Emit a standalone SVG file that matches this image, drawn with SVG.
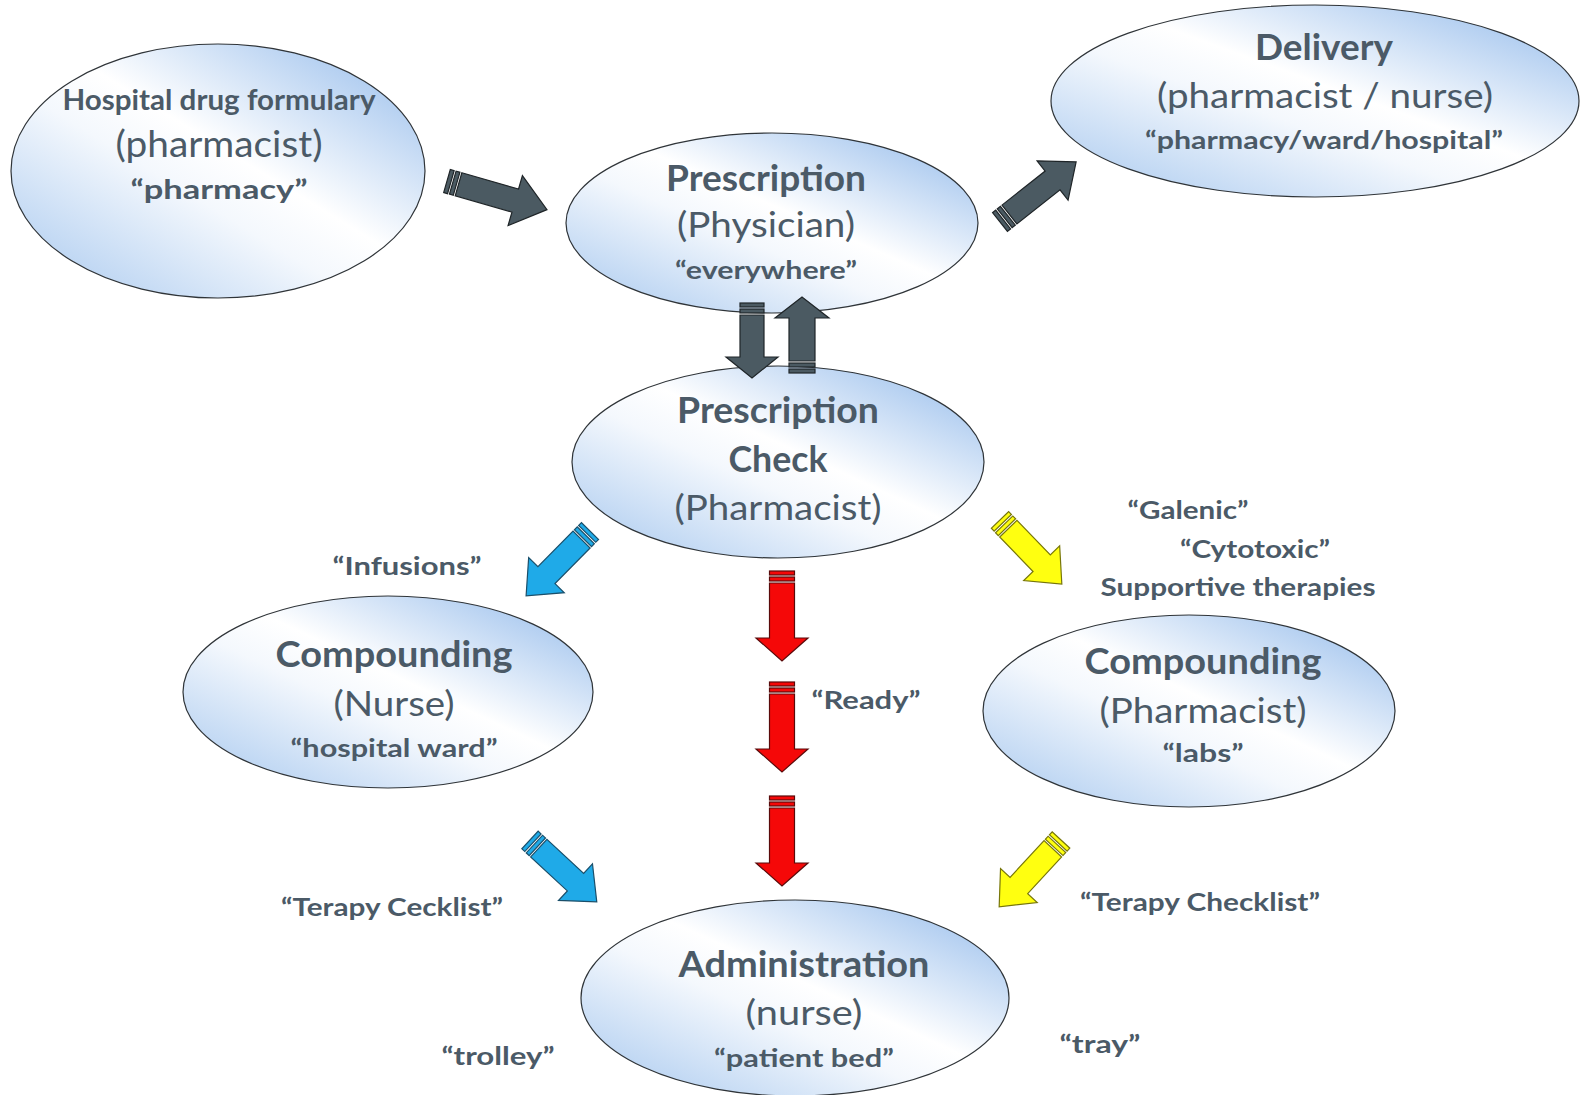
<svg xmlns="http://www.w3.org/2000/svg" width="1585" height="1095" viewBox="0 0 1585 1095">
  <defs>
    <linearGradient id="bubble" x1="1" y1="0" x2="0" y2="1">
      <stop offset="0" stop-color="#8fb8ea"/>
      <stop offset="0.45" stop-color="#ffffff"/>
      <stop offset="0.58" stop-color="#f4f8fd"/>
      <stop offset="1" stop-color="#a4c6ee"/>
    </linearGradient>
    <style>
      .node ellipse { fill: url(#bubble); stroke: #2f3438; stroke-width: 1.2; }
      text { font-family: Lato, "Liberation Sans", sans-serif; fill: #4b5a67; text-anchor: middle; }
      .b { font-weight: bold; font-size: 25px; }
      .t { font-weight: bold; font-size: 36px; }
      .r { font-weight: normal; font-size: 35px; }
      .gray path, .gray rect { fill: #4b5a62; stroke: #1f2528; stroke-width: 1.2; }
      .blue path, .blue rect { fill: #1faae8; stroke: #1a4f6a; stroke-width: 1.2; }
      .yellow path, .yellow rect { fill: #ffff10; stroke: #77760a; stroke-width: 1.2; }
      .red path, .red rect { fill: #f50808; stroke: #5a0a0a; stroke-width: 1.2; }
    </style>
  </defs>

  <!-- nodes -->
  <g id="formulary" class="node">
    <ellipse cx="218" cy="171" rx="207" ry="127"/>
    <text class="b" x="219" y="110" style="font-size:28px" textLength="313" lengthAdjust="spacingAndGlyphs">Hospital drug formulary</text>
    <text class="r" x="219" y="157" style="font-size:37px" textLength="207" lengthAdjust="spacingAndGlyphs">(pharmacist)</text>
    <text class="b" x="219" y="199" style="font-size:27px" textLength="177" lengthAdjust="spacingAndGlyphs">“pharmacy”</text>
  </g>

  <g id="prescription" class="node">
    <ellipse cx="772" cy="223" rx="206" ry="90"/>
    <text class="t" x="766" y="191" textLength="200" lengthAdjust="spacingAndGlyphs">Prescription</text>
    <text class="r" x="766" y="237" textLength="178" lengthAdjust="spacingAndGlyphs">(Physician)</text>
    <text class="b" x="766" y="279" textLength="182" lengthAdjust="spacingAndGlyphs">“everywhere”</text>
  </g>

  <g id="delivery" class="node">
    <ellipse cx="1315" cy="101" rx="264" ry="96"/>
    <text class="t" x="1324" y="60" textLength="138" lengthAdjust="spacingAndGlyphs">Delivery</text>
    <text class="r" x="1325" y="108" textLength="336" lengthAdjust="spacingAndGlyphs">(pharmacist / nurse)</text>
    <text class="b" x="1324" y="149" textLength="358" lengthAdjust="spacingAndGlyphs">“pharmacy/ward/hospital”</text>
  </g>

  <g id="check" class="node">
    <ellipse cx="778" cy="462" rx="206" ry="96"/>
    <text class="t" x="778" y="423" textLength="202" lengthAdjust="spacingAndGlyphs">Prescription</text>
    <text class="t" x="778" y="472" textLength="99" lengthAdjust="spacingAndGlyphs">Check</text>
    <text class="r" x="778" y="520" textLength="207" lengthAdjust="spacingAndGlyphs">(Pharmacist)</text>
  </g>

  <g id="compounding-nurse" class="node">
    <ellipse cx="388" cy="692" rx="205" ry="96"/>
    <text class="t" x="394" y="667" textLength="237" lengthAdjust="spacingAndGlyphs">Compounding</text>
    <text class="r" x="394" y="716" textLength="121" lengthAdjust="spacingAndGlyphs">(Nurse)</text>
    <text class="b" x="394" y="757" textLength="207" lengthAdjust="spacingAndGlyphs">“hospital ward”</text>
  </g>

  <g id="compounding-pharmacist" class="node">
    <ellipse cx="1189" cy="711" rx="206" ry="96"/>
    <text class="t" x="1203" y="674" textLength="237" lengthAdjust="spacingAndGlyphs">Compounding</text>
    <text class="r" x="1203" y="723" textLength="207" lengthAdjust="spacingAndGlyphs">(Pharmacist)</text>
    <text class="b" x="1203" y="762" textLength="81" lengthAdjust="spacingAndGlyphs">“labs”</text>
  </g>

  <g id="administration" class="node">
    <ellipse cx="795" cy="998" rx="214" ry="98"/>
    <text class="t" x="804" y="977" textLength="251" lengthAdjust="spacingAndGlyphs">Administration</text>
    <text class="r" x="804" y="1025" textLength="117" lengthAdjust="spacingAndGlyphs">(nurse)</text>
    <text class="b" x="804" y="1067" textLength="180" lengthAdjust="spacingAndGlyphs">“patient bed”</text>
  </g>

  <!-- connectors: striped block arrows, drawn pointing +x then placed -->
  <g id="connectors">
    <g class="gray" transform="translate(447 181) rotate(16)">
      <rect x="0" y="-12" width="4" height="24"/><rect x="6" y="-12" width="4" height="24"/>
      <path d="M12,-12 H71 V-26 L104,0 L71,26 V12 H12 Z"/>
    </g>
    <g class="gray" transform="translate(1000 222) rotate(-38.3)">
      <rect x="0" y="-12" width="4" height="24"/><rect x="6" y="-12" width="4" height="24"/>
      <path d="M12,-12 H67 V-25 L97,0 L67,25 V12 H12 Z"/>
    </g>
    <g class="gray" transform="translate(752 303) rotate(90)">
      <rect x="0" y="-12" width="4" height="24"/><rect x="6" y="-12" width="4" height="24"/>
      <path d="M12,-12 H54 V-26 L75,0 L54,26 V12 H12 Z"/>
    </g>
    <g class="gray" transform="translate(802 373) rotate(-90)">
      <rect x="0" y="-13" width="4" height="26"/><rect x="6" y="-13" width="4" height="26"/>
      <path d="M12,-13 H55 V-27 L76,0 L55,27 V13 H12 Z"/>
    </g>

    <g class="blue" transform="translate(590 531) rotate(134.6)">
      <rect x="0" y="-12" width="4" height="24"/><rect x="6" y="-12" width="4" height="24"/>
      <path d="M12,-12 H62 V-25 L91,0 L62,25 V12 H12 Z"/>
    </g>
    <g class="yellow" transform="translate(1000 520) rotate(46)">
      <rect x="0" y="-12" width="4" height="24"/><rect x="6" y="-12" width="4" height="24"/>
      <path d="M12,-12 H60 V-25 L89,0 L60,25 V12 H12 Z"/>
    </g>
    <g class="blue" transform="translate(530 840) rotate(42.8)">
      <rect x="0" y="-12" width="4" height="24"/><rect x="6" y="-12" width="4" height="24"/>
      <path d="M12,-12 H62 V-25 L91,0 L62,25 V12 H12 Z"/>
    </g>
    <g class="yellow" transform="translate(1061 840) rotate(132.8)">
      <rect x="0" y="-12" width="4" height="24"/><rect x="6" y="-12" width="4" height="24"/>
      <path d="M12,-12 H62 V-25 L91,0 L62,25 V12 H12 Z"/>
    </g>

    <g class="red" transform="translate(782 571) rotate(90)">
      <rect x="0" y="-12.5" width="4" height="25"/><rect x="6" y="-12.5" width="4" height="25"/>
      <path d="M12,-12.5 H67 V-26 L90,0 L67,26 V12.5 H12 Z"/>
    </g>
    <g class="red" transform="translate(782 682) rotate(90)">
      <rect x="0" y="-12.5" width="4" height="25"/><rect x="6" y="-12.5" width="4" height="25"/>
      <path d="M12,-12.5 H67 V-26 L90,0 L67,26 V12.5 H12 Z"/>
    </g>
    <g class="red" transform="translate(782 796) rotate(90)">
      <rect x="0" y="-12.5" width="4" height="25"/><rect x="6" y="-12.5" width="4" height="25"/>
      <path d="M12,-12.5 H67 V-26 L90,0 L67,26 V12.5 H12 Z"/>
    </g>
  </g>

  <!-- free labels -->
  <g id="labels">
    <text class="b" x="407" y="575" textLength="149" lengthAdjust="spacingAndGlyphs">“Infusions”</text>
    <text class="b" x="1188" y="519" textLength="121" lengthAdjust="spacingAndGlyphs">“Galenic”</text>
    <text class="b" x="1255" y="558" textLength="150" lengthAdjust="spacingAndGlyphs">“Cytotoxic”</text>
    <text class="b" x="1238" y="596" textLength="275" lengthAdjust="spacingAndGlyphs">Supportive therapies</text>
    <text class="b" x="866" y="709" textLength="109" lengthAdjust="spacingAndGlyphs">“Ready”</text>
    <text class="b" x="392" y="916" textLength="222" lengthAdjust="spacingAndGlyphs">“Terapy Cecklist”</text>
    <text class="b" x="1200" y="911" textLength="240" lengthAdjust="spacingAndGlyphs">“Terapy Checklist”</text>
    <text class="b" x="498" y="1065" textLength="113" lengthAdjust="spacingAndGlyphs">“trolley”</text>
    <text class="b" x="1100" y="1053" textLength="81" lengthAdjust="spacingAndGlyphs">“tray”</text>
  </g>
</svg>
